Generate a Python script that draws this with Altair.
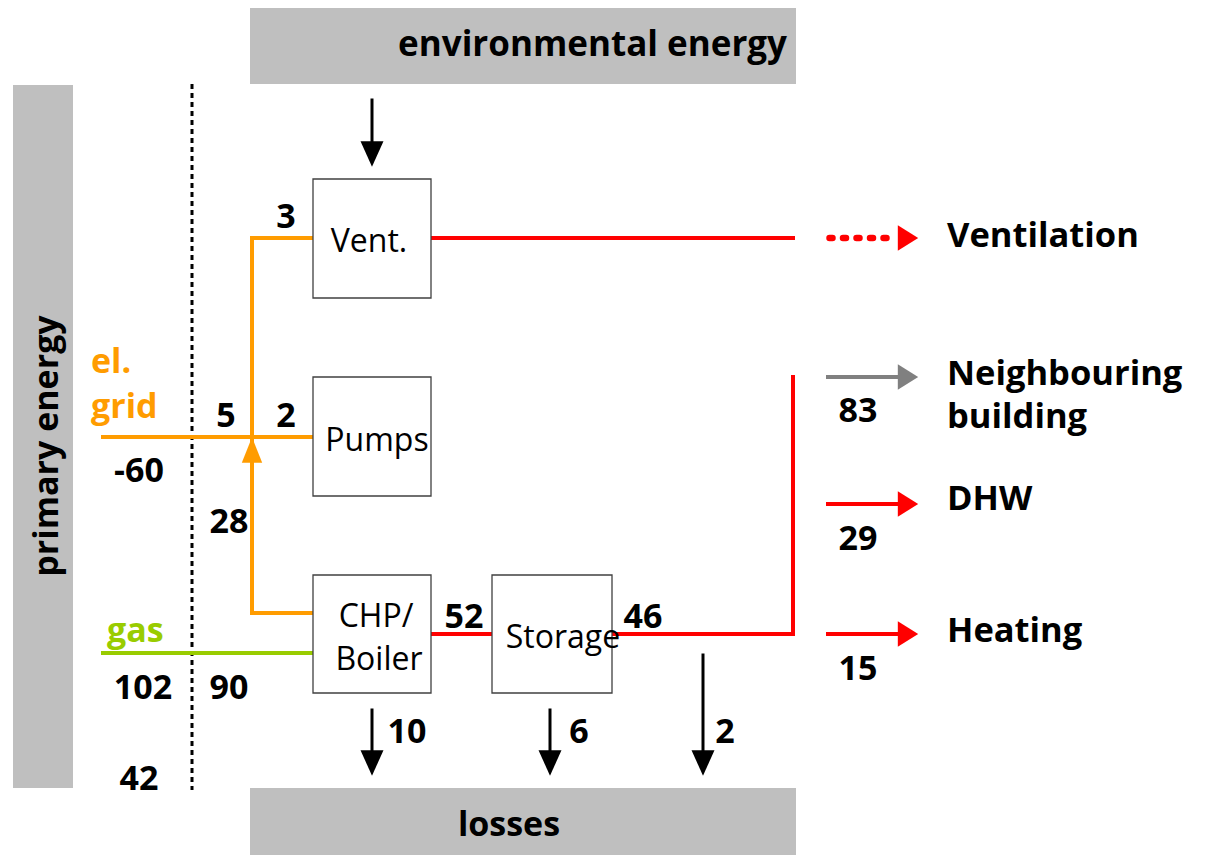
import altair as alt
import pandas as pd

# ---------------- data (diagram layout in pixel units) ----------------
# grey panels
panel_x1 = [13, 250, 250]
panel_x2 = [73, 796, 796]
panel_y1 = [85, 5, 788]
panel_y2 = [788, 84, 863]

# component boxes
box_names = ["Vent.", "Pumps", "CHP/Boiler", "Storage"]
box_x1 = [313, 313, 313, 492]
box_x2 = [431, 431, 431, 612]
box_y1 = [179, 377, 575, 575]
box_y2 = [298, 496, 693, 693]

ORANGE = "#ff9c00"
GREEN = "#99cc00"
RED = "#ff0000"
GREY = "#808080"
BLACK = "#000000"

# flow segments: x1, y1, x2, y2, colour
seg_x1 = [103, 252, 252, 252, 103, 431, 431, 612, 793, 828, 828, 828, 372, 372, 550, 703]
seg_y1 = [437, 238, 238, 613, 653, 238, 634, 634, 377, 377, 504, 634, 100, 710, 710, 655]
seg_x2 = [313, 252, 313, 313, 313, 793, 492, 793, 793, 900, 900, 900, 372, 372, 550, 703]
seg_y2 = [437, 613, 238, 613, 653, 238, 634, 634, 634, 377, 504, 634, 150, 760, 760, 760]
seg_col = [ORANGE, ORANGE, ORANGE, ORANGE, GREEN, RED, RED, RED, RED,
           GREY, RED, RED, BLACK, BLACK, BLACK, BLACK]
seg_w = [4, 4, 4, 4, 4, 4, 4, 4, 4, 4, 4, 4, 3, 3, 3, 3]

# dotted ventilation flow
dot_x1, dot_x2, dot_y = [829.5], [897], [238]

# dashed boundary
bound_x, bound_y1, bound_y2 = [192], [84], [790]

# arrow heads: centre x, centre y, direction, colour
head_x = [908, 908, 908, 908, 372, 372, 550, 703, 252]
head_y = [238, 377, 504, 634, 154, 763, 763, 763, 450]
head_dir = ["right", "right", "right", "right", "down", "down", "down", "down", "up"]
head_col = [RED, GREY, RED, RED, BLACK, BLACK, BLACK, BLACK, ORANGE]

# flow values
num_text = ["3", "5", "2", "-60", "28", "102", "90", "42", "52", "46",
            "10", "6", "2", "83", "29", "15"]
num_x = [286, 226, 286, 139, 229, 143, 229, 139, 464, 643,
         407, 579, 725, 858, 858, 858]
num_y = [228, 427, 427, 482, 533, 699, 699, 790, 628, 628,
         743, 743, 743, 422, 550, 680]

# sink labels
sink_text = ["Ventilation", "Neighbouring", "building", "DHW", "Heating"]
sink_y = [247, 385, 428, 510, 642]
sink_x = [947, 947, 947, 947, 947]

# source labels
src_text = ["el.", "grid", "gas"]
src_x = [91, 91, 107]
src_y = [373, 418, 642]
src_col = [ORANGE, ORANGE, GREEN]

# box labels
blab_text = ["Vent.", "Pumps", "CHP/", "Boiler", "Storage"]
blab_x = [369, 377, 376, 379, 563]
blab_y = [252, 451, 627, 670, 648]

FONT = "Open Sans"

# ---------------- scales ----------------
W, H = 1185, 847
xs = alt.Scale(domain=[8, 8 + W])
ys = alt.Scale(domain=[8, 8 + H], reverse=True)


def X(f):
    return alt.X(f, type="quantitative", scale=xs, axis=None)


def Y(f):
    return alt.Y(f, type="quantitative", scale=ys, axis=None)


panels = pd.DataFrame({"x1": panel_x1, "x2": panel_x2, "y1": panel_y1, "y2": panel_y2})
panel_layer = alt.Chart(panels).mark_rect(color="#bfbfbf").encode(
    x=X("x1"), x2="x2", y=Y("y1"), y2="y2")

segs = pd.DataFrame({"x1": seg_x1, "y1": seg_y1, "x2": seg_x2, "y2": seg_y2,
                     "c": seg_col, "w": seg_w})
seg_layers = []
for w in sorted(set(seg_w)):
    seg_layers.append(
        alt.Chart(segs[segs.w == w]).mark_rule(strokeWidth=w, strokeCap="square").encode(
            x=X("x1"), x2="x2", y=Y("y1"), y2="y2",
            color=alt.Color("c:N", scale=None)))

dots = pd.DataFrame({"x1": dot_x1, "x2": dot_x2, "y": dot_y})
dot_layer = alt.Chart(dots).mark_rule(
    color=RED, strokeWidth=6.5, strokeDash=[3, 10.5], strokeCap="round").encode(
    x=X("x1"), x2="x2", y=Y("y"))

bound = pd.DataFrame({"x": bound_x, "y1": bound_y1, "y2": bound_y2})
bound_layer = alt.Chart(bound).mark_rule(
    color=BLACK, strokeWidth=3, strokeDash=[5, 4]).encode(
    x=X("x"), y=Y("y1"), y2="y2")

boxes = pd.DataFrame({"n": box_names, "x1": box_x1, "x2": box_x2, "y1": box_y1, "y2": box_y2})
box_layer = alt.Chart(boxes).mark_rect(
    fill="white", stroke="#404040", strokeWidth=1.3).encode(
    x=X("x1"), x2="x2", y=Y("y1"), y2="y2")

paths = {
    "right": "M-0.8,-1L0.8,0L-0.8,1Z",
    "down": "M-0.9,-1L0.9,-1L0,1Z",
    "up": "M-0.8,1L0.8,1L0,-1Z",
}
heads = pd.DataFrame({"x": head_x, "y": head_y, "d": head_dir, "c": head_col})
head_layers = []
for d, p in paths.items():
    head_layers.append(
        alt.Chart(heads[heads.d == d]).mark_point(
            shape=p, size=650, filled=True, opacity=1, strokeWidth=0).encode(
            x=X("x"), y=Y("y"), color=alt.Color("c:N", scale=None)))

nums = pd.DataFrame({"t": num_text, "x": num_x, "y": num_y})
num_layer = alt.Chart(nums).mark_text(
    font=FONT, fontSize=34, fontWeight="bold", color=BLACK,
    align="center", baseline="alphabetic").encode(x=X("x"), y=Y("y"), text="t:N")

sinks = pd.DataFrame({"t": sink_text, "x": sink_x, "y": sink_y})
sink_layer = alt.Chart(sinks).mark_text(
    font=FONT, fontSize=34.5, fontWeight="bold", color=BLACK,
    align="left", baseline="alphabetic").encode(x=X("x"), y=Y("y"), text="t:N")

srcs = pd.DataFrame({"t": src_text, "x": src_x, "y": src_y, "c": src_col})
src_layer = alt.Chart(srcs).mark_text(
    font=FONT, fontSize=34, fontWeight="bold",
    align="left", baseline="alphabetic").encode(
    x=X("x"), y=Y("y"), text="t:N", color=alt.Color("c:N", scale=None))

blabs = pd.DataFrame({"t": blab_text, "x": blab_x, "y": blab_y})
blab_layer = alt.Chart(blabs).mark_text(
    font=FONT, fontSize=32, fontWeight="normal", color=BLACK,
    align="center", baseline="alphabetic").encode(x=X("x"), y=Y("y"), text="t:N")

titles = pd.DataFrame({"t": ["environmental energy"], "x": [787], "y": [56]})
title_top = alt.Chart(titles).mark_text(
    font=FONT, fontSize=35, fontWeight="bold", color=BLACK,
    align="right", baseline="alphabetic").encode(x=X("x"), y=Y("y"), text="t:N")

titles2 = pd.DataFrame({"t": ["losses"], "x": [509], "y": [836]})
title_bot = alt.Chart(titles2).mark_text(
    font=FONT, fontSize=34, fontWeight="bold", color=BLACK,
    align="center", baseline="alphabetic").encode(x=X("x"), y=Y("y"), text="t:N")

titles3 = pd.DataFrame({"t": ["primary energy"], "x": [58], "y": [446]})
title_left = alt.Chart(titles3).mark_text(
    font=FONT, fontSize=34, fontWeight="bold", color=BLACK, angle=270,
    align="center", baseline="alphabetic").encode(x=X("x"), y=Y("y"), text="t:N")

chart = alt.layer(
    panel_layer, bound_layer, *seg_layers, dot_layer, box_layer, *head_layers,
    num_layer, sink_layer, src_layer, blab_layer, title_top, title_bot, title_left
).properties(
    width=W, height=H, padding=0, autosize=alt.AutoSizeParams(type="none")
).configure(background="white", view=alt.ViewConfig(stroke=None))

chart.save("out.html", embed_options={"renderer": "svg", "actions": False})
